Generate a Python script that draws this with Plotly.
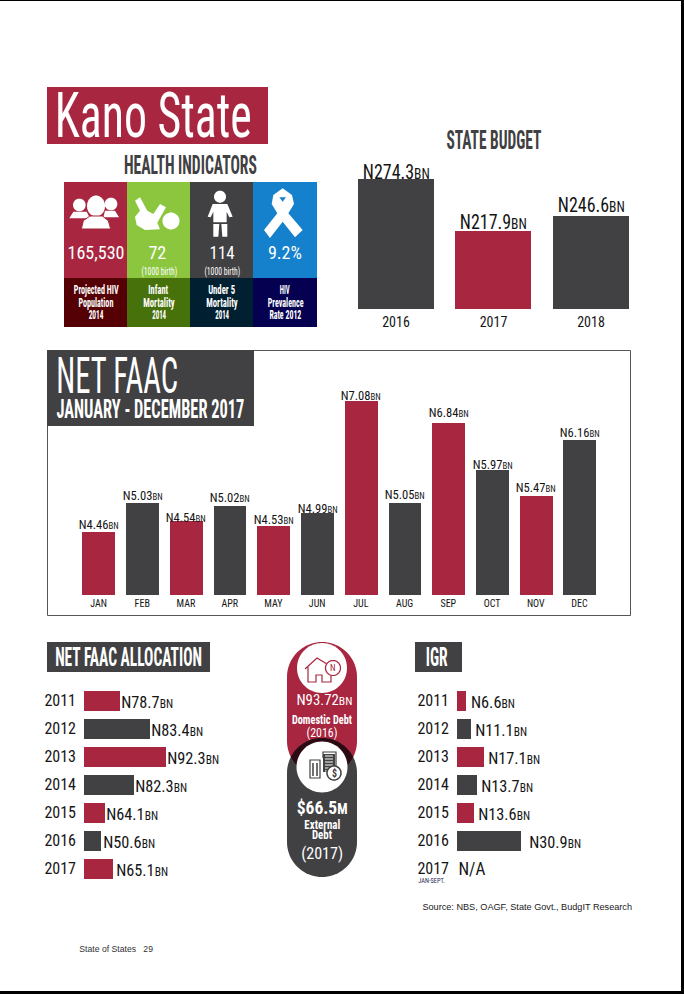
import json
import math
import plotly.graph_objects as go

W, H = 684, 994
RED = "#A8263F"
DARK = "#414042"
INK = "#151515"
COND = "Roboto Condensed"

# bar lengths in pixels, the page does not draw them in proportion to the labels
budget_years = ["2016", "2017", "2018"]
budget_values = [274.3, 217.9, 246.6]
budget_bars = [130, 78, 93]

months = ["JAN", "FEB", "MAR", "APR", "MAY", "JUN", "JUL", "AUG", "SEP", "OCT", "NOV", "DEC"]
faac_values = ["4.46", "5.03", "4.54", "5.02", "4.53", "4.99", "7.08", "5.05", "6.84", "5.97", "5.47", "6.16"]
faac_bars = [63, 92, 74, 89, 69, 82, 194, 92, 172, 125, 99, 155]

alloc_years = ["2011", "2012", "2013", "2014", "2015", "2016", "2017"]
alloc_values = [78.7, 83.4, 92.3, 82.3, 64.1, 50.6, 65.1]
alloc_bars = [36, 66, 82, 50, 21, 17, 29]

igr_years = ["2011", "2012", "2013", "2014", "2015", "2016", "2017"]
igr_values = [6.6, 11.1, 17.1, 13.7, 13.6, 30.9]
igr_bars = [9, 14, 27, 20, 17, 64]

tile_values = ["165,530", "72", "114", "9.2%"]
tile_captions = [["Projected HIV", "Population", "2014"], ["Infant", "Mortality", "2014"],
                 ["Under 5", "Mortality", "2014"], ["HIV", "Prevalence", "Rate 2012"]]

fig = go.Figure()
shapes = []
notes = []
fit_widths = []


def px(x):
    return x / W


def py(y):
    return 1 - y / H


def box(x0, y0, x1, y1, color):
    shapes.append(dict(type="rect", xref="paper", yref="paper", x0=px(x0), x1=px(x1), y0=py(y0), y1=py(y1),
                       fillcolor=color, line_width=0, layer="below"))


def poly(points, color, line=0, closed=True, line_color=None):
    d = "M" + " L".join(f"{px(x):.5f},{py(y):.5f}" for x, y in points)
    if closed:
        d += " Z"
    shapes.append(dict(type="path", xref="paper", yref="paper", path=d,
                       fillcolor=color if closed else "rgba(0,0,0,0)",
                       line=dict(width=line, color=line_color or color), layer="below"))


def arc(cx, cy, rx, ry, a0, a1, n=40):
    return [(cx + rx * math.cos(math.radians(a0 + (a1 - a0) * i / n)),
             cy + ry * math.sin(math.radians(a0 + (a1 - a0) * i / n))) for i in range(n + 1)]


def circle(cx, cy, r, color, ry=None):
    poly(arc(cx, cy, r, ry or r, 0, 360, 60), color)


def stroke(points, color, width):
    poly(points, color, line=width, closed=False)


def label(cx, cy, text, size, color=INK, width=None, bold=False, family=COND):
    notes.append(dict(x=px(cx), y=py(cy), xref="paper", yref="paper", text=text, showarrow=False,
                      xanchor="center", yanchor="middle",
                      font=dict(family=family, size=size, color=color, weight=700 if bold else 400)))
    fit_widths.append(width)


def bar_label(xref, yref, x, y, text, size, width, xshift=0, yshift=0):
    notes.append(dict(x=x, y=y, xref=xref, yref=yref, text=text, showarrow=False, xanchor="center",
                      yanchor="middle", xshift=xshift, yshift=yshift,
                      font=dict(family=COND, size=size, color=INK)))
    fit_widths.append(width)


def money(value, unit, small):
    return f'N{value}<span style="font-size:{small}px">{unit}</span>'


def alternate(items, first, second):
    return [first if i % 2 == 0 else second for i in range(len(items))]


def axes(n, x0, x1, y0, y1, xopts, yopts):
    common = dict(showgrid=False, zeroline=False, showline=False, fixedrange=True)
    fig.layout[f"xaxis{n}"] = dict(domain=[px(x0), px(x1)], anchor=f"y{n}", **common, **xopts)
    fig.layout[f"yaxis{n}"] = dict(domain=[py(y1), py(y0)], anchor=f"x{n}", **common, **yopts)


# page edge
box(0, 0, W, 1, "#000000")
box(681, 0, W, H, "#000000")
box(0, 991, W, H, "#000000")

# title
box(47, 87, 268, 144, RED)
label(153, 115, "Kano State", 62, "white", 197)

# health indicators
label(190.5, 166, "HEALTH INDICATORS", 25, DARK, 133, bold=True)
tile_edges = [64, 127, 190, 253, 317]
tile_top = [RED, "#8CC63F", DARK, "#1581CC"]
tile_low = ["#540004", "#47710A", "#001F30", "#05004F"]
tile_value_w = [57, 18, 25, 34]
caption_w = [[45, 35, 15], [20, 32, 14], [27, 32, 14], [10, 36, 32]]
for i in range(4):
    box(tile_edges[i], 182, tile_edges[i + 1], 278, tile_top[i])
    box(tile_edges[i], 278, tile_edges[i + 1], 327, tile_low[i])
    mid = (tile_edges[i] + tile_edges[i + 1]) / 2
    label(mid + (0 if i != 1 else -1), 253, tile_values[i], 19, "white", tile_value_w[i])
    for line_no, line in enumerate(tile_captions[i]):
        label(mid, 290 + line_no * 12.5, line, 12, "white", caption_w[i][line_no], bold=True)
label(159, 272, "(1000 birth)", 10, "white", 36)
label(222, 272, "(1000 birth)", 10, "white", 36)


def t(x, y):
    return 40 + x / 3, 80 + y / 3


# people icon
for hx, hy, hr, pts in [
    (118, 375, 19, [(88, 415), (100, 395), (140, 395), (150, 415)]),
    (213, 372, 19, [(190, 412), (195, 392), (225, 392), (237, 412)]),
]:
    circle(*t(hx, hy), hr / 3, "white")
    poly([t(*p) for p in pts], "white")
circle(*t(168, 378), 9, "white", ry=10.5)
poly([t(*p) for p in [(124, 447), (130, 422), (150, 408), (187, 408), (205, 422), (212, 447)]], "white", line=1,
     line_color=RED)
# baby icon
circle(*t(393, 423), 8.5, "white")
poly([t(*p) for p in [(285, 362), (300, 352), (322, 392), (340, 402), (360, 372), (378, 382), (352, 428), (360, 448),
                      (315, 450), (290, 435), (285, 410), (300, 392)]], "white")
# child icon
circle(*t(540, 350), 6, "white")
poly([t(*p) for p in [(518, 372), (562, 372), (578, 410), (568, 412), (560, 395), (560, 427), (520, 427), (520, 395),
                      (512, 412), (503, 410)]], "white")
poly([t(*p) for p in [(520, 432), (538, 432), (535, 470), (520, 470)]], "white")
poly([t(*p) for p in [(544, 432), (562, 432), (562, 470), (547, 470)]], "white")
# ribbon icon
poly([t(*p) for p in [(700, 345), (728, 325), (756, 345), (762, 372), (745, 400), (788, 450), (765, 472), (728, 425),
                      (690, 474), (672, 450), (712, 400), (695, 372)]], "white")
poly([t(718, 352), t(738, 352), t(728, 365)], "#1581CC")

# state budget
label(493.5, 140, "STATE BUDGET", 25, DARK, 95, bold=True)
axes(1, 347.25, 639.75, 170, 309,
     dict(type="category", categoryorder="array", categoryarray=budget_years, range=[-0.5, 2.5],
          tickfont=dict(family=COND, size=14, color=INK), ticks="", ticklabelstandoff=3),
     dict(range=[0, 139], visible=False))
fig.add_trace(go.Bar(x=budget_years, y=budget_bars, xaxis="x", yaxis="y", width=0.78,
                     marker=dict(color=alternate(budget_years, DARK, RED), line_width=0), hoverinfo="skip"))
budget_lift = [7, 9, 11]
for i, (value, height) in enumerate(zip(budget_values, budget_bars)):
    bar_label("x", "y", i, height, money(value, "BN", 15), 20, 67, yshift=budget_lift[i])

# monthly net FAAC
shapes.append(dict(type="rect", xref="paper", yref="paper", x0=px(47.5), x1=px(630.5), y0=py(350.5), y1=py(615.5),
                   line=dict(color="#555555", width=1), fillcolor="white", layer="below"))
box(47, 350, 254, 426, DARK)
label(117, 376, "NET FAAC", 50, "white", 122)
label(150, 410, "JANUARY - DECEMBER 2017", 25, "white", 188, bold=True)
axes(2, 76.65, 601.35, 380, 595,
     dict(type="category", categoryorder="array", categoryarray=months, range=[-0.5, 11.5],
          tickfont=dict(family=COND, size=10, color=INK), ticks="", ticklabelstandoff=1),
     dict(range=[0, 215], visible=False))
fig.add_trace(go.Bar(x=months, y=faac_bars, xaxis="x2", yaxis="y2", width=0.75,
                     marker=dict(color=alternate(months, RED, DARK), line_width=0), hoverinfo="skip"))
faac_lift = [8, 8, 4, 9, 7, 5, 6, 9, 11, 6, 9, 8]
for i, (value, height, lift) in enumerate(zip(faac_values, faac_bars, faac_lift)):
    bar_label("x2", "y2", i, height, money(value, "BN", 9), 13, 40, yshift=lift)

# net FAAC allocation
box(47, 642, 210, 672, DARK)
label(128.5, 657, "NET FAAC ALLOCATION", 25, "white", 147, bold=True)
row_opts = dict(type="category", categoryorder="array", autorange=False, range=[6.5, -0.5], ticks="",
                ticklabelstandoff=7, tickfont=dict(family=COND, size=16, color=INK))
axes(3, 84, 240, 686.5, 882.5, dict(range=[0, 156], visible=False), dict(categoryarray=alloc_years, **row_opts))
fig.add_trace(go.Bar(y=alloc_years, x=alloc_bars, orientation="h", xaxis="x3", yaxis="y3", width=0.68,
                     marker=dict(color=alternate(alloc_years, RED, DARK), line_width=0), hoverinfo="skip"))
alloc_gap = [1, 1, 1, 1, 1, 2, 3]
for i, (value, length, gap) in enumerate(zip(alloc_values, alloc_bars, alloc_gap)):
    bar_label("x3", "y3", length, i, money(value, "BN", 12), 17, 52, xshift=26 + gap, yshift=-1.5)

# IGR
box(415, 642, 462, 672, DARK)
label(437, 657, "IGR", 25, "white", 22, bold=True)
axes(4, 457, 620, 686.5, 882.5, dict(range=[0, 163], visible=False), dict(categoryarray=igr_years, **row_opts))
fig.add_trace(go.Bar(y=igr_years[:6], x=igr_bars, orientation="h", xaxis="x4", yaxis="y4", width=0.68,
                     marker=dict(color=alternate(igr_bars, RED, DARK), line_width=0), hoverinfo="skip"))
igr_gap = [5, 4, 4, 4, 4, 8]
igr_label_w = [44, 52, 52, 52, 52, 52]
for i, (value, length, gap) in enumerate(zip(igr_values, igr_bars, igr_gap)):
    bar_label("x4", "y4", length, i, money(value, "BN", 12), 17, igr_label_w[i],
              xshift=igr_label_w[i] / 2 + gap, yshift=-1.5)
label(471.5, 868, "N/A", 19, INK, 27)
label(431.5, 881, "JAN-SEPT.", 7, "#2B2B55", 27)

# debt pills
red_pill = arc(322, 677, 35, 35, 180, 360) + arc(322, 741, 35, 35, 0, 180)
grey_pill = arc(322, 773, 35, 35, 180, 360) + arc(322, 842, 35, 35, 0, 180)
poly(red_pill, RED)
poly(grey_pill, DARK)
half = math.degrees(math.asin(16 / 35))
poly(arc(322, 773, 35, 35, 180 + half, 360 - half) + arc(322, 741, 35, 35, half, 180 - half), "#2C0A14")
circle(322, 668, 25, "white")
circle(322, 767, 25.5, "white")
# house icon
stroke([(305, 669), (317, 658), (327, 664)], RED, 1.2)
stroke([(308, 667), (308, 682), (316, 682), (316, 675), (322, 675), (322, 682), (331, 682), (331, 676)], RED, 1.2)
poly(arc(333, 668, 7.5, 7.5, 0, 360), "white", line=1.2, line_color=RED)
label(333, 668, "N", 9, RED)
# building icon
stroke([(323, 758), (323, 752), (336, 752), (336, 775)], DARK, 1.2)
poly([(323, 754), (335, 754), (335, 772), (323, 772)], DARK)
for rung in range(6):
    stroke([(325, 756 + rung * 3), (333, 756 + rung * 3)], "white", 1)
poly([(310, 760), (320, 760), (320, 778), (310, 778)], "white", line=1.2, line_color=DARK)
for col in (313, 317):
    stroke([(col, 763), (col, 776)], DARK, 1.5)
poly(arc(334, 773, 7, 7, 0, 360), "white", line=1.5, line_color=DARK)
label(334, 773, "$", 10, DARK, bold=True)

label(324, 699.5, money("93.72", "BN", 11), 14, "white", 56)
label(321.5, 719, "Domestic Debt", 13, "white", 60, bold=True)
label(321.5, 732, "(2016)", 13, "white", 31)
label(321.5, 807, '$66.5<span style="font-size:14px">M</span>', 18, "white", 51, bold=True)
label(322, 824, "External", 13, "white", 36, bold=True)
label(322, 834, "Debt", 13, "white", 20, bold=True)
label(322, 853, "(2017)", 17, "white", 42)

# footer text
label(527, 907, "Source: NBS, OAGF, State Govt., BudgIT Research", 9, "#1A1A1A", 210, family="Liberation Sans")
label(116, 949, "State of States&nbsp;&nbsp;&nbsp;29", 8.5, "#333333", 74, family="Liberation Sans")

fig.update_layout(width=W, height=H, margin=dict(l=0, r=0, t=0, b=0, pad=0), paper_bgcolor="white",
                  plot_bgcolor="rgba(0,0,0,0)", showlegend=False, shapes=shapes, annotations=notes, bargap=0)

# no condensed display face is installed, so squeeze each text to the width it has on the page
fit_script = """
document.body.style.margin = '0';
var fitWidths = %s;
document.querySelectorAll('.annotation').forEach(function (a) {
    var w = fitWidths[+a.getAttribute('data-index')];
    var txt = a.querySelector('.annotation-text');
    if (!w || !txt) return;
    var b = txt.getBBox();
    var s = w / b.width, cx = b.x + b.width / 2;
    txt.setAttribute('transform', 'translate(' + cx * (1 - s) + ' 0) scale(' + s + ' 1)');
});
""" % json.dumps(fit_widths)

fig.write_html("out.html", post_script=fit_script, config=dict(displayModeBar=False))
